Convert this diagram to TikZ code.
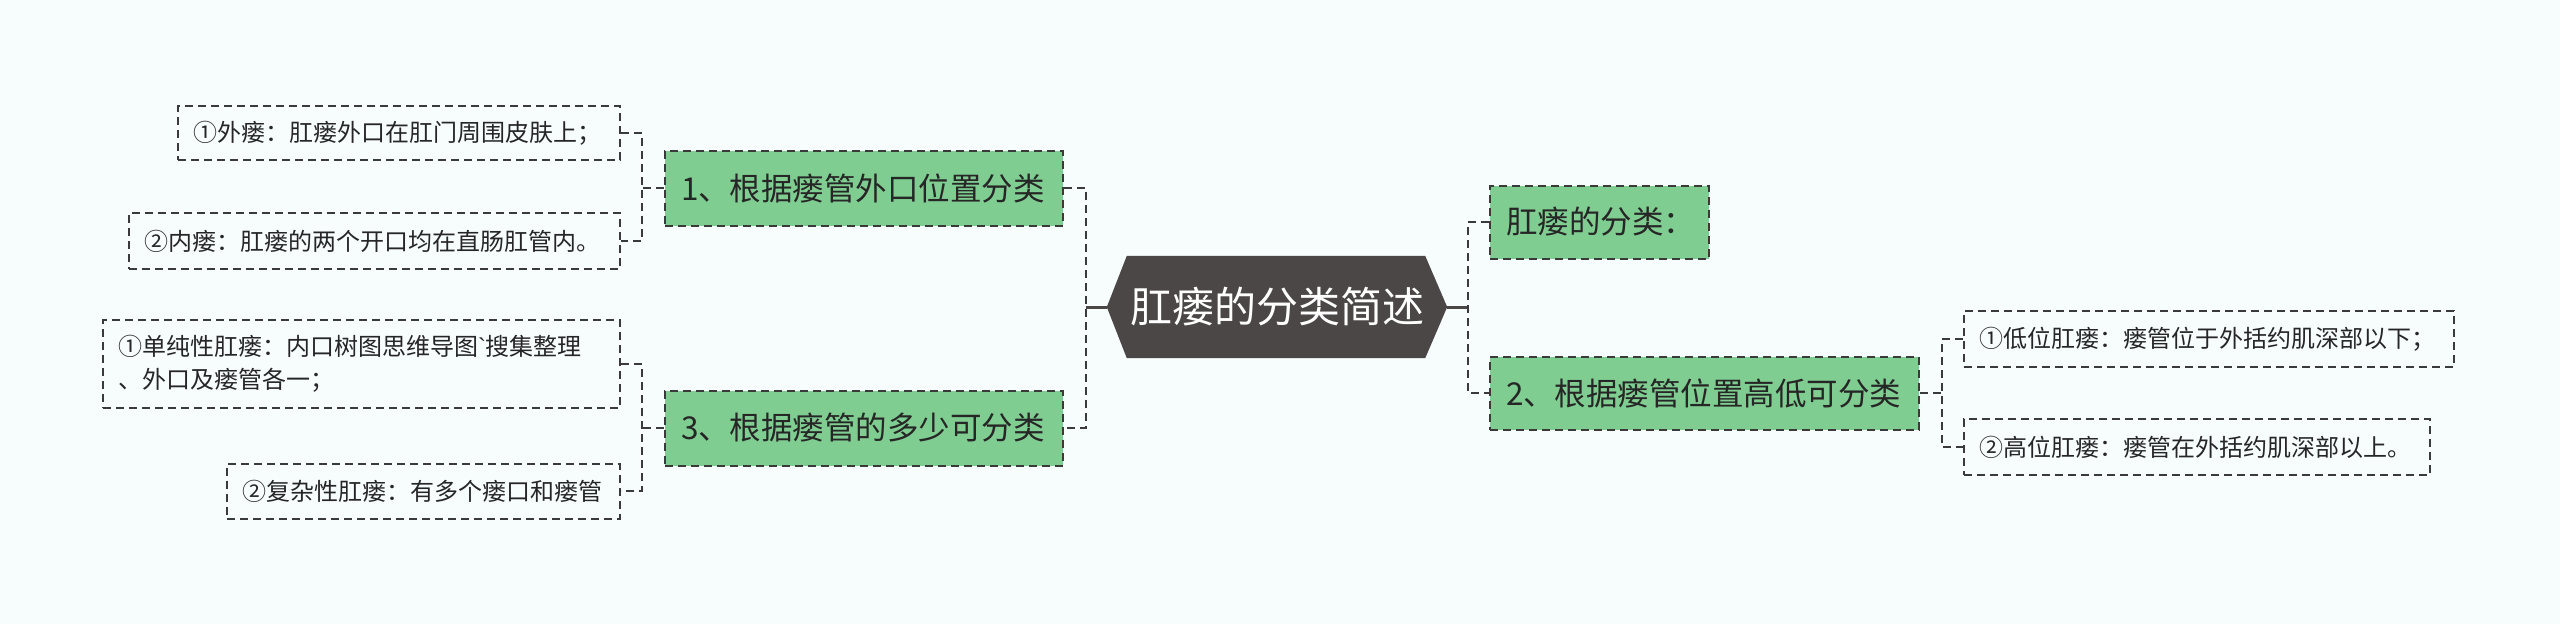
\documentclass[tikz,border=0pt]{standalone}
\usepackage{fontspec}
\setmainfont{Noto Sans CJK SC}
\newfontfamily\latinf{Liberation Sans}
\usetikzlibrary{calc}
\definecolor{bgc}{HTML}{F7FCFD}
\definecolor{greenc}{HTML}{7FCD91}
\definecolor{darkc}{HTML}{4B4747}
\definecolor{linec}{HTML}{3A3A3A}
\tikzset{
  dsh/.style={dash pattern=on 8pt off 5pt, line width=2pt, draw=linec},
  conn/.style={dsh},
  solidconn/.style={draw=darkc, line width=3pt},
  leaf/.style={dsh, fill=bgc, inner xsep=15pt, inner ysep=0pt, align=left,
    font=\fontsize{24pt}{33pt}\selectfont, text=black!85},
  topic/.style={dsh, fill=greenc, inner xsep=16pt, inner ysep=0pt, align=left,
    font=\fontsize{31.5pt}{36pt}\selectfont, text=black!85},
}
\begin{document}
\begin{tikzpicture}[x=1pt,y=-1pt]
\fill[bgc] (0,0) rectangle (2560,624);
\useasboundingbox (0,0) rectangle (2560,624);

% central topic
\node[minimum width=340pt, minimum height=102pt, inner sep=0pt] (c) at (1277,307) {};
\fill[darkc] (c.west) -- ($(c.north west)+(20,0)$) -- ($(c.north east)+(-22,0)$) -- (c.east)
  -- ($(c.south east)+(-22,0)$) -- ($(c.south west)+(20,0)$) -- cycle;
\node[text=white, font=\fontsize{42pt}{46pt}\selectfont] at (c.center) {肛瘘的分类简述};

% main topics
\node[topic, text width=366pt, minimum height=75pt] (b1) at (864,188) {1、根据瘘管外口位置分类};
\node[topic, text width=366pt, minimum height=75pt] (b3) at (864,428) {3、根据瘘管的多少可分类};
\node[topic, text width=187pt, minimum height=73pt] (bA) at (1599.5,222) {肛瘘的分类：};
\node[topic, text width=397pt, minimum height=73pt] (b2) at (1704.5,393) {2、根据瘘管位置高低可分类};

% leaves
\node[leaf, text width=412pt, minimum height=54pt] (l1) at (399,133) {①外瘘：肛瘘外口在肛门周围皮肤上；};
\node[leaf, text width=461pt, minimum height=56pt] (l2) at (374.5,241) {②内瘘：肛瘘的两个开口均在直肠肛管内。};
\node[leaf, text width=487pt, minimum height=88pt] (l3) at (361.5,364) {①单纯性肛瘘：内口树图思维导图{\latinf\symbol{"60}}搜集整理\\、外口及瘘管各一；};
\node[leaf, text width=363pt, minimum height=55pt] (l4) at (423.5,491) {②复杂性肛瘘：有多个瘘口和瘘管};
\node[leaf, text width=460pt, minimum height=56pt] (l5) at (2209,339) {①低位肛瘘：瘘管位于外括约肌深部以下；};
\node[leaf, text width=436pt, minimum height=56pt] (l6) at (2197,447) {②高位肛瘘：瘘管在外括约肌深部以上。};

% buses
\coordinate (lbus) at (1086,307);
\coordinate (rbus) at (1468,307);
\coordinate (b1bus) at (642,188);
\coordinate (b3bus) at (642,428);
\coordinate (b2bus) at (1942,393);

\draw[solidconn] (c.west) -- (lbus);
\draw[solidconn] (c.east) -- (rbus);
\draw[conn] (b1.east) -| (lbus) |- (b3.east);
\draw[conn] (bA.west) -| (rbus) |- (b2.west);

\draw[conn] (b1.west) -- (b1bus);
\draw[conn] (l1.east) -| (b1bus) |- (l2.east);
\draw[conn] (b3.west) -- (b3bus);
\draw[conn] (l3.east) -| (b3bus) |- (l4.east);
\draw[conn] (b2.east) -- (b2bus);
\draw[conn] (l5.west) -| (b2bus) |- (l6.west);
\end{tikzpicture}
\end{document}
